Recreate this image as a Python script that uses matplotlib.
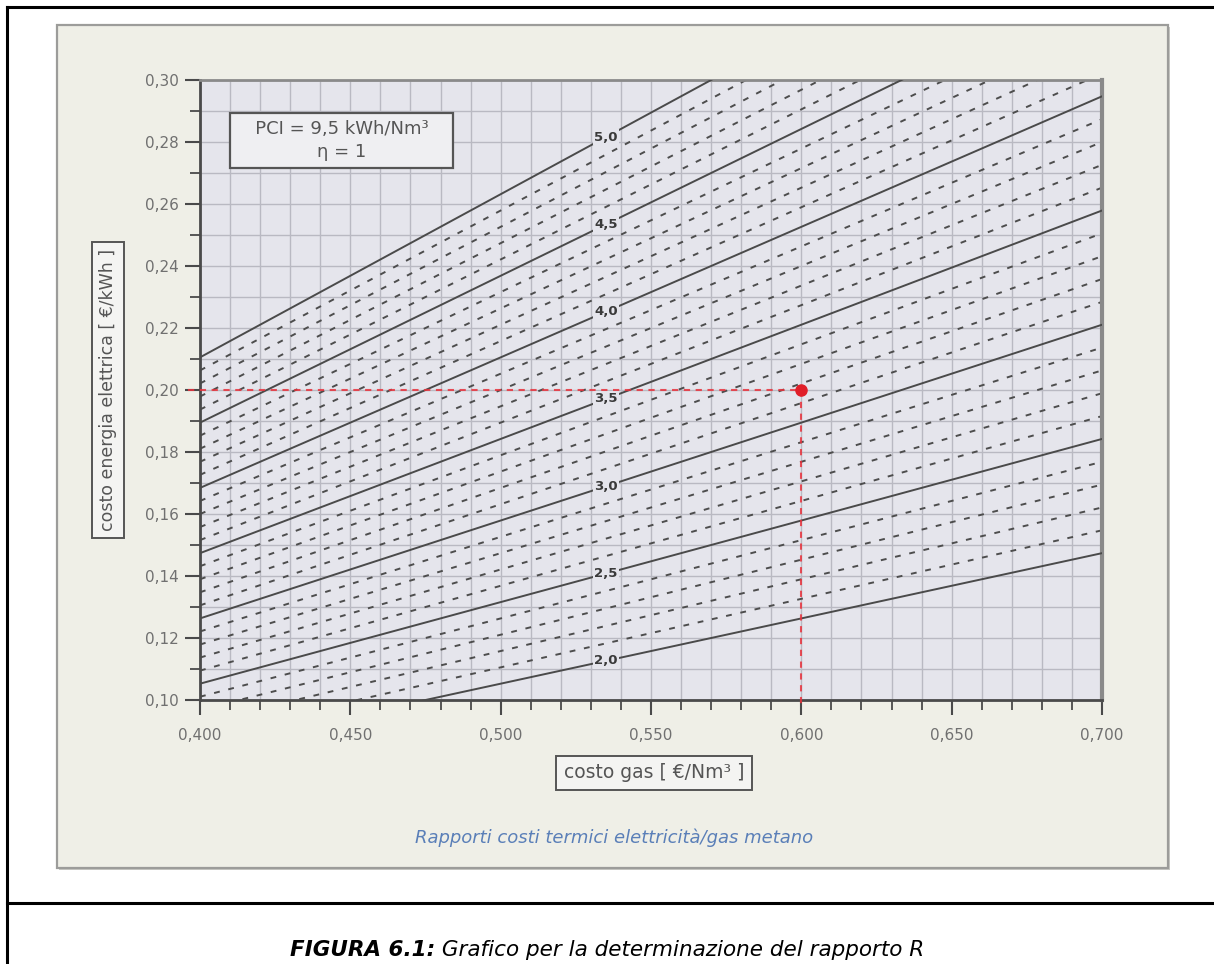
import numpy as np
import matplotlib
matplotlib.use("Agg")
import matplotlib.pyplot as plt
from matplotlib.patches import Rectangle
from matplotlib.lines import Line2D
from matplotlib.text import Annotation
from matplotlib.ticker import MultipleLocator, FuncFormatter

plt.rcParams['font.family'] = ['DejaVu Sans']
plt.rcParams['lines.scale_dashes'] = False

# ---- data ----
PCI = 9.5                      # kWh/Nm3
gas_range = [0.400, 0.700]     # costo gas range (x)
el_range = [0.10, 0.30]        # costo energia elettrica range (y)
R_solid = [2.0, 2.5, 3.0, 3.5, 4.0, 4.5, 5.0]
R_dashed = [2.1, 2.2, 2.3, 2.4, 2.6, 2.7, 2.8, 2.9, 3.1, 3.2, 3.3, 3.4,
            3.6, 3.7, 3.8, 3.9, 4.1, 4.2, 4.3, 4.4, 4.6, 4.7, 4.8, 4.9]
R_labels = ["2,0", "2,5", "3,0", "3,5", "4,0", "4,5", "5,0"]
label_gas = 0.535
example_gas = 0.600
example_el = 0.200

W, H = 1214, 964
fig = plt.figure(figsize=(W / 100, H / 100), dpi=100)
fig.patch.set_facecolor('white')

def fx(px):
    return px / W

def fy(py):
    return 1 - py / H

# page lines
fig.add_artist(Line2D([fx(7), 1], [fy(7), fy(7)], color='black', lw=2.2, zorder=-1))
fig.add_artist(Line2D([fx(7), fx(7)], [fy(7), 0], color='black', lw=2.2, zorder=-1))
fig.add_artist(Line2D([fx(7), 1], [fy(903), fy(903)], color='black', lw=2.2, zorder=-1))

# panel with shadow
fig.add_artist(Rectangle((fx(59), fy(870)), fx(1111), 843 / H,
                         facecolor='#c8c8c4', edgecolor='none', zorder=-3))
fig.add_artist(Rectangle((fx(57), fy(868)), fx(1111), 843 / H,
                         facecolor='#efefe7', edgecolor='#9c9c9a', lw=1.6, zorder=-2))

ax = fig.add_axes([fx(200), fy(700), fx(902), 620 / H])
ax.set_zorder(1)
ax.set_facecolor('#e5e5ec')
ax.set_xlim(*gas_range)
ax.set_ylim(*el_range)

# grid
ax.xaxis.set_major_locator(MultipleLocator(0.05))
ax.xaxis.set_minor_locator(MultipleLocator(0.01))
ax.yaxis.set_major_locator(MultipleLocator(0.02))
ax.yaxis.set_minor_locator(MultipleLocator(0.01))
ax.grid(which='both', color='#b9b9c2', lw=1.0, zorder=0)
ax.set_axisbelow(True)

x = np.array(gas_range)
for R in R_dashed:
    ax.plot(x, R * x / PCI, color='#4d4d4d', lw=1.4, dashes=(4.2, 6.3), zorder=2)
for R in R_solid:
    ax.plot(x, R * x / PCI, color='#4a4a4a', lw=1.4, zorder=3)
for R, lab in zip(R_solid, R_labels):
    ax.text(label_gas, R * label_gas / PCI, lab, ha='center', va='center',
            fontsize=9.5, fontweight='bold', color='#3a3a3a', zorder=5,
            bbox=dict(boxstyle='square,pad=0.12', facecolor='#e5e5ec', edgecolor='none'))

# example point
x0 = ax.get_xlim()[0]
y0 = ax.get_ylim()[0]
ax.plot([x0 - 0.004, example_gas], [example_el, example_el], color='#e8323c',
        lw=1.5, dashes=(4.5, 4.0), zorder=6, clip_on=False, alpha=0.85)
ax.plot([example_gas, example_gas], [example_el, y0 - 0.002], color='#e8323c',
        lw=1.5, dashes=(4.5, 4.0), zorder=6, clip_on=False, alpha=0.85)
ax.plot([example_gas], [example_el], 'o', color='#e01e28', ms=8, zorder=7)

# spines
for s in ['left', 'bottom']:
    ax.spines[s].set_color('#4a4a4a')
    ax.spines[s].set_linewidth(2.0)
ax.spines['top'].set_color('#8a8a8a')
ax.spines['top'].set_linewidth(2.0)
ax.spines['right'].set_color('#8a8a8a')
ax.spines['right'].set_linewidth(3.0)

ax.tick_params(which='major', length=11, width=1.5, color='#4a4a4a',
               labelsize=11, labelcolor='#707070', pad=4, direction='out')
ax.tick_params(which='minor', length=7, width=1.3, color='#4a4a4a', direction='out')
ax.xaxis.set_major_formatter(FuncFormatter(lambda v, p: f"{v:.3f}".replace('.', ',')))
ax.yaxis.set_major_formatter(FuncFormatter(lambda v, p: f"{v:.2f}".replace('.', ',')))
ax.tick_params(axis='x', which='major', pad=9)

# PCI box
ax.text(0.4125, 0.2805, "   PCI = 9,5 kWh/Nm\u00b3   \n\u03b7 = 1", ha='left', va='center',
        fontsize=13, color='#555555', linespacing=1.3, multialignment='center',
        bbox=dict(boxstyle='square,pad=0.42', facecolor='#efeff2', edgecolor='#555555', lw=1.6),
        zorder=8)

# axis label boxes
fig.text(fx(108), fy(390), "costo energia elettrica [ \u20ac/kWh ]", rotation=90,
         ha='center', va='center', fontsize=12.5, color='#555555',
         bbox=dict(boxstyle='square,pad=0.4', facecolor='#f4f4f2', edgecolor='#555555', lw=1.4))
fig.text(fx(654), fy(773), "costo gas [ \u20ac/Nm\u00b3 ]", ha='center', va='center',
         fontsize=13.5, color='#555555',
         bbox=dict(boxstyle='square,pad=0.4', facecolor='#f4f4f2', edgecolor='#555555', lw=1.4))

fig.text(fx(614), fy(838), "Rapporti costi termici elettricit\u00e0/gas metano", ha='center',
         va='center', fontsize=13, color='#5a7fb8', style='italic')

# caption
cap1 = fig.text(fx(290), fy(950), "FIGURA 6.1:", ha='left', va='center', fontsize=15.5,
                fontweight='bold', style='italic', color='black')
fig.add_artist(Annotation(
    " Grafico per la determinazione del rapporto R", xy=(1, 0.5), xycoords=cap1,
    ha='left', va='center', fontsize=15.5, style='italic', color='black'))

fig.savefig("out.png", dpi=100, facecolor='white')
